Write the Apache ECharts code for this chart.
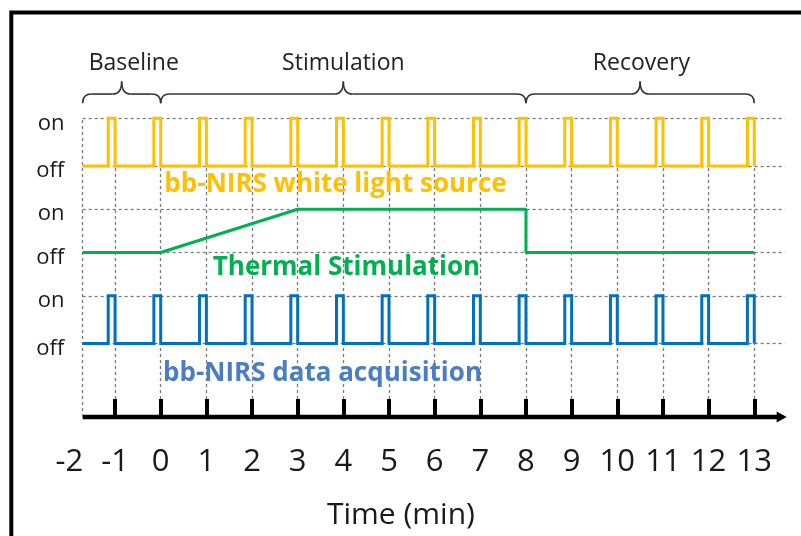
<!DOCTYPE html>
<html>
<head>
<meta charset="utf-8">
<script src="https://cdn.jsdelivr.net/npm/echarts@6/dist/echarts.min.js"></script>
<style>
  html, body { margin: 0; padding: 0; background: #ffffff; }
  #chart { width: 801px; height: 536px; }
</style>
</head>
<body>
<div id="chart"></div>
<script>
// ---- Time axis (minutes) ----
const tickLabels = [-2, -1, 0, 1, 2, 3, 4, 5, 6, 7, 8, 9, 10, 11, 12, 13];
const tickMarks = [-1, 0, 1, 2, 3, 4, 5, 6, 7, 8, 9, 10, 11, 12, 13];
const AXIS_START = -1.71;   // where the time line and grid begin
const GRID_END = 13.67;     // right end of the dotted level lines
const AXIS_END = 13.71;     // tip of the time arrow

// ---- Protocol phases ----
const phaseNames = ['Baseline', 'Stimulation', 'Recovery'];
const phaseBounds = [AXIS_START, 0, 8, 13];
const phaseLabelAt = [-0.59, 4.0, 10.53];

// ---- bb-NIRS white light source: pulse rise / fall times (min) ----
const lightRise = [-1.15, -0.15, 0.85, 1.85, 2.85, 3.85, 4.85, 5.85, 6.85, 7.85, 8.85, 9.85, 10.85, 11.85, 12.85];
const lightFall = [-1, 0, 1, 2, 3, 4, 5, 6, 7, 8, 9, 10, 11, 12, 13];

// ---- Thermal stimulation profile (0 = off, 1 = on) ----
const thermalTime = [AXIS_START, 0, 3, 8, 8, 13];
const thermalState = [0, 0, 1, 1, 0, 0];

// ---- bb-NIRS data acquisition: pulse rise / fall times (min) ----
const acqRise = [-1.15, -0.15, 0.85, 1.85, 2.85, 3.85, 4.85, 5.85, 6.85, 7.85, 8.85, 9.85, 10.85, 11.85, 12.85];
const acqFall = [-1, 0, 1, 2, 3, 4, 5, 6, 7, 8, 9, 10, 11, 12, 13];

// ---- Signal lanes on the vertical axis ----
const levelNames = ['off', 'on', 'off', 'on', 'off', 'on'];
const levelValues = [1.7, 2.8, 3.8, 4.8, 5.8, 6.9];
const lanes = {
  light:   { off: 5.8, on: 6.9 },
  thermal: { off: 3.8, on: 4.8 },
  acq:     { off: 1.7, on: 2.8 }
};

const signalNames = ['bb-NIRS white light source', 'Thermal Stimulation', 'bb-NIRS data acquisition'];
const signalColors = ['#FFC000', '#00B050', '#0070C0'];
const signalTextColors = ['#FFC000', '#00B050', '#4A7EC4'];
// label anchors (left edge, vertical middle) in axis units
const signalLabelAt = [[0.08, 5.37], [1.14, 3.45], [0.05, 1.01]];

const FONT = '"Open Sans", "Liberation Sans", sans-serif';

function pulseTrain(rise, fall, lane) {
  const pts = [[AXIS_START, lane.off]];
  for (let i = 0; i < rise.length; i++) {
    pts.push([rise[i], lane.off], [rise[i], lane.on], [fall[i], lane.on], [fall[i], lane.off]);
  }
  return pts;
}

function profile(times, states, lane) {
  return times.map((t, i) => [t, lane.off + states[i] * (lane.on - lane.off)]);
}

const chart = echarts.init(document.getElementById('chart'), null, { renderer: 'canvas' });

const dotted = { color: '#7a7a7a', width: 1.3, type: [3, 3] };

const verticalGrid = [AXIS_START].concat(tickMarks).map(t => ({ xAxis: t }));
const horizontalGrid = levelValues.map(v => [{ coord: [AXIS_START, v] }, { coord: [GRID_END, v] }]);

const ARROW_LEN = 10; // px

const option = {
  animation: false,
  backgroundColor: '#ffffff',
  grid: { left: 69.4, right: 12.5, top: 118.3, bottom: 119, containLabel: false },
  xAxis: {
    type: 'value',
    min: -2,
    max: 13.75,
    z: 6,
    axisLine: { show: false },
    splitLine: { show: false },
    axisTick: {
      show: true,
      customValues: tickMarks,
      inside: true,
      length: 18,
      lineStyle: { color: '#000', width: 4 }
    },
    axisLabel: {
      show: true,
      customValues: tickLabels,
      fontFamily: FONT,
      fontSize: 31,
      color: '#1a1a1a',
      margin: 30
    },
    name: 'Time (min)',
    nameLocation: 'middle',
    nameGap: 83,
    nameTextStyle: { fontFamily: FONT, fontSize: 30, color: '#1a1a1a', padding: [0, 56, 0, 0] }
  },
  yAxis: {
    type: 'value',
    min: 0,
    max: 6.9,
    axisLine: { show: false },
    splitLine: { show: false },
    axisTick: { show: false },
    axisLabel: {
      show: true,
      customValues: levelValues,
      formatter: v => levelNames[levelValues.indexOf(v)],
      fontFamily: FONT,
      fontSize: 22,
      color: '#1a1a1a',
      margin: 5,
      verticalAlign: 'top',
      padding: [-6, 0, 0, 0]
    }
  },
  series: [
    {
      name: 'time line',
      type: 'line',
      clip: false,
      silent: true,
      symbol: 'none',
      showSymbol: true,
      lineStyle: { color: '#000', width: 4.5 },
      data: [
        [AXIS_START, 0],
        { value: [AXIS_END - ARROW_LEN / 2 / 45.66, 0], symbol: 'triangle', symbolSize: [11, ARROW_LEN], symbolRotate: -90, itemStyle: { color: '#000' } }
      ],
      markLine: {
        silent: true,
        symbol: ['none', 'none'],
        label: { show: false },
        lineStyle: dotted,
        data: verticalGrid.concat(horizontalGrid)
      },
      z: 4
    },
    {
      name: signalNames[0],
      type: 'line',
      clip: false,
      symbol: 'none',
      lineStyle: { color: signalColors[0], width: 3, join: 'miter' },
      data: pulseTrain(lightRise, lightFall, lanes.light),
      z: 5
    },
    {
      name: signalNames[1],
      type: 'line',
      clip: false,
      symbol: 'none',
      lineStyle: { color: signalColors[1], width: 3 },
      data: profile(thermalTime, thermalState, lanes.thermal),
      z: 5
    },
    {
      name: signalNames[2],
      type: 'line',
      clip: false,
      symbol: 'none',
      lineStyle: { color: signalColors[2], width: 3, join: 'miter' },
      data: pulseTrain(acqRise, acqFall, lanes.acq),
      z: 5
    }
  ]
};

chart.setOption(option);

// ---- Annotations: frame, phase braces, phase names and signal names ----
function px(t, v) { return chart.convertToPixel({ gridIndex: 0 }, [t, v]); }

const BRACE_END = 7.25, BRACE_BAR = 7.46, BRACE_PEAK = 7.75, PHASE_TEXT = 8.16;
const braceStyle = { fill: null, stroke: '#333', lineWidth: 1.6 };

function curve(x1, y1, cx, cy, x2, y2) {
  return { type: 'bezierCurve', shape: { x1: x1, y1: y1, cpx1: cx, cpy1: cy, x2: x2, y2: y2 }, style: braceStyle, silent: true, z: 10 };
}
function segment(x1, y1, x2, y2) {
  return { type: 'line', shape: { x1: x1, y1: y1, x2: x2, y2: y2 }, style: braceStyle, silent: true, z: 10 };
}

function brace(t0, t1) {
  const a = px(t0, BRACE_END), b = px(t1, BRACE_END);
  const yBar = px(t0, BRACE_BAR)[1], yPeak = px(t0, BRACE_PEAK)[1];
  const xm = (a[0] + b[0]) / 2, r = 9;
  return [
    curve(a[0], a[1], a[0], yBar, a[0] + r, yBar),
    segment(a[0] + r, yBar, xm - r, yBar),
    curve(xm - r, yBar, xm, yBar, xm, yPeak),
    curve(xm, yPeak, xm, yBar, xm + r, yBar),
    segment(xm + r, yBar, b[0] - r, yBar),
    curve(b[0] - r, yBar, b[0], yBar, b[0], b[1])
  ];
}

let graphics = [
  {
    type: 'rect',
    shape: { x: 11.3, y: 12.5, width: 1200, height: 1200 },
    style: { fill: null, stroke: '#000', lineWidth: 4 },
    silent: true, z: 10
  }
];

phaseNames.forEach((name, i) => {
  graphics = graphics.concat(brace(phaseBounds[i], phaseBounds[i + 1]));
  const p = px(phaseLabelAt[i], PHASE_TEXT);
  graphics.push({
    type: 'text',
    x: p[0], y: p[1],
    style: { text: name, font: '23px ' + FONT, fill: '#222', align: 'center', verticalAlign: 'middle' },
    silent: true, z: 10
  });
});

signalNames.forEach((name, i) => {
  const p = px(signalLabelAt[i][0], signalLabelAt[i][1]);
  graphics.push({
    type: 'text',
    x: p[0], y: p[1],
    style: { text: name, font: 'bold 26px ' + FONT, fill: signalTextColors[i], align: 'left', verticalAlign: 'middle' },
    silent: true, z: 10
  });
});

chart.setOption({ graphic: graphics });
</script>
</body>
</html>
